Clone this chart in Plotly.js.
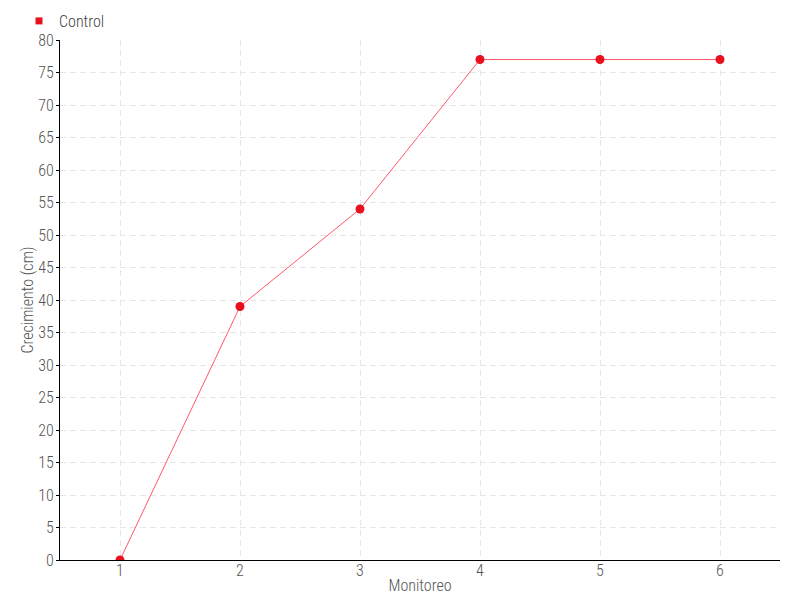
<!DOCTYPE html>
<html><head><meta charset="utf-8">
<script src="https://cdn.plot.ly/plotly-3.0.1.min.js"></script>
<style>html,body{margin:0;padding:0;background:#fff}</style>
</head><body>
<div id="chart" style="width:800px;height:600px"></div>
<script>
const categories = [1, 2, 3, 4, 5, 6];
const controlValues = [0, 39, 54, 77, 77, 77];
const yTicks = [0,5,10,15,20,25,30,35,40,45,50,55,60,65,70,75,80];
const seriesName = "Control";

const FONT = "Roboto Condensed, sans-serif";

Plotly.newPlot('chart', [{
  x: categories, y: controlValues, name: seriesName,
  type: 'scatter', mode: 'lines+markers',
  line: {color: 'rgba(255,70,90,0.9)', width: 1},
  marker: {color: '#e8101e', size: 9},
  showlegend: false
}, {
  x: [null], y: [null], name: seriesName,
  type: 'scatter', mode: 'markers',
  marker: {color: '#e8101e', size: 7, symbol: 'square'},
  showlegend: true
}], {
  width: 800, height: 600,
  margin: {l: 60, r: 20, t: 40, b: 40, autoexpand: false},
  paper_bgcolor: '#fff', plot_bgcolor: '#fff',
  font: {family: FONT, size: 16, color: '#555', weight: 300},
  showlegend: true,
  legend: {x: 19/800, xref: 'container', y: 1 - 4/600, yref: 'container', xanchor: 'left', yanchor: 'top',
           orientation: 'h', font: {family: FONT, size: 16, color: '#444', weight: 300},
           bgcolor: 'rgba(0,0,0,0)', borderwidth: 0, tracegroupgap: 0},
  xaxis: {
    range: [0.5, 6.5], tickvals: categories, ticktext: categories.map(String),
    showline: true, linecolor: '#000', linewidth: 1,
    ticks: '', ticklabelstandoff: -4,
    showgrid: true, gridcolor: '#e6e6e6', griddash: '6px,4px', zeroline: false,
    title: {text: 'Monitoreo', font: {family: FONT, size: 16, color: '#555', weight: 300}, standoff: 0},
    fixedrange: true, automargin: false
  },
  yaxis: {
    range: [0, 80], tickvals: yTicks,
    showline: true, linecolor: '#000', linewidth: 1,
    ticks: 'outside', ticklen: 3, tickcolor: '#000', ticklabelstandoff: -1,
    showgrid: true, gridcolor: '#e6e6e6', griddash: '6px,4px', zeroline: false,
    title: {text: 'Crecimiento (cm)', font: {family: FONT, size: 16, color: '#555', weight: 300}, standoff: 0},
    fixedrange: true, automargin: false
  }
}, {displayModeBar: false, staticPlot: true});
</script>
</body></html>
